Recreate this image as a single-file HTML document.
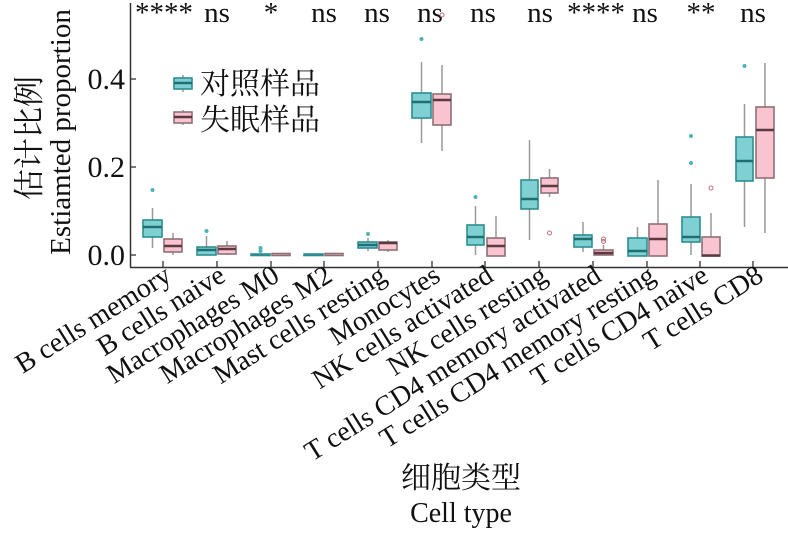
<!DOCTYPE html>
<html><head><meta charset="utf-8"><style>
body{margin:0;background:#fff;}
svg{display:block;}
text{font-family:"Liberation Serif","Noto Serif CJK SC",serif;fill:#111;}
.c{fill:#7fd0d3;stroke:#2d8d90;stroke-width:1.6;}
.p{fill:#f9c3cf;stroke:#8e6f76;stroke-width:1.6;}
.mc{stroke:#1f6f72;stroke-width:2.4;}
.mp{stroke:#5a3a40;stroke-width:2.4;}
.w{stroke:#999;stroke-width:1.5;}
</style></head><body>
<svg width="788" height="534" viewBox="0 0 788 534" xmlns="http://www.w3.org/2000/svg">
<line x1="130.5" y1="3" x2="130.5" y2="267" stroke="#333" stroke-width="1.5"/>
<line x1="130" y1="267.5" x2="788" y2="267.5" stroke="#333" stroke-width="1.5"/>
<g stroke="#333" stroke-width="1.3">
<line x1="130" y1="255" x2="136" y2="255"/><line x1="130" y1="167" x2="136" y2="167"/><line x1="130" y1="79" x2="136" y2="79"/>
<line x1="163" y1="261" x2="163" y2="267"/><line x1="217" y1="261" x2="217" y2="267"/><line x1="271" y1="261" x2="271" y2="267"/><line x1="324" y1="261" x2="324" y2="267"/><line x1="378" y1="261" x2="378" y2="267"/><line x1="432" y1="261" x2="432" y2="267"/><line x1="485" y1="261" x2="485" y2="267"/><line x1="539" y1="261" x2="539" y2="267"/><line x1="593" y1="261" x2="593" y2="267"/><line x1="647" y1="261" x2="647" y2="267"/><line x1="700" y1="261" x2="700" y2="267"/><line x1="753" y1="261" x2="753" y2="267"/>
</g>
<g font-size="30" text-anchor="end">
<text x="125" y="265">0.0</text><text x="125" y="177">0.2</text><text x="125" y="89">0.4</text>
</g>
<text transform="translate(40,138) rotate(-90)" font-size="31" text-anchor="middle">估计比例</text>
<text transform="translate(70,132) rotate(-90)" font-size="29" text-anchor="middle">Estiamted proportion</text>

<g font-size="29" text-anchor="middle">
<text x="164" y="22">****</text><text x="217" y="22">ns</text><text x="271" y="22">*</text><text x="324" y="22">ns</text><text x="377" y="22">ns</text><text x="430" y="22">ns</text><text x="483" y="22">ns</text><text x="540" y="22">ns</text><text x="596" y="22">****</text><text x="645" y="22">ns</text><text x="701" y="22">**</text><text x="753" y="22">ns</text>
</g>

<g>
<line class="w" x1="152.5" y1="208" x2="152.5" y2="248"/><rect class="c" x="143" y="220" width="19" height="17"/><line class="mc" x1="143" y1="227" x2="162" y2="227"/><circle cx="152.5" cy="190" r="2" fill="#4fb3b6"/>
<line class="w" x1="173" y1="233" x2="173" y2="255"/><rect class="p" x="164" y="239" width="18" height="13"/><line class="mp" x1="164" y1="246" x2="182" y2="246"/>
<line class="w" x1="206.5" y1="236" x2="206.5" y2="255"/><rect class="c" x="197" y="247" width="19" height="8"/><line class="mc" x1="197" y1="250" x2="216" y2="250"/><circle cx="206.5" cy="231" r="2" fill="#4fb3b6"/>
<line class="w" x1="227" y1="241" x2="227" y2="255"/><rect class="p" x="218" y="246" width="18" height="8"/><line class="mp" x1="218" y1="249" x2="236" y2="249"/>
<rect class="c" x="251" y="254" width="19" height="1.5"/><circle cx="260.5" cy="248" r="2" fill="#4fb3b6"/><circle cx="260.5" cy="251" r="2" fill="#4fb3b6"/>
<rect class="p" x="272" y="253.5" width="18" height="2"/>
<rect class="c" x="304" y="254" width="19" height="1.5"/><rect class="p" x="325" y="253.5" width="18" height="2"/>
<line class="w" x1="368" y1="238" x2="368" y2="251"/><rect class="c" x="358" y="242" width="19" height="6"/><line class="mc" x1="358" y1="245" x2="377" y2="245"/><circle cx="368" cy="234" r="2" fill="#4fb3b6"/>
<line class="w" x1="388" y1="240" x2="388" y2="252"/><rect class="p" x="379" y="242" width="18" height="8"/><line class="mp" x1="379" y1="243" x2="397" y2="243"/>
<line class="w" x1="421.5" y1="62" x2="421.5" y2="143"/><rect class="c" x="412" y="93" width="19" height="25"/><line class="mc" x1="412" y1="102" x2="431" y2="102"/><circle cx="421.5" cy="39" r="2" fill="#4fb3b6"/>
<line class="w" x1="442" y1="65" x2="442" y2="151"/><rect class="p" x="433" y="94" width="18" height="31"/><line class="mp" x1="433" y1="100" x2="451" y2="100"/><circle cx="442" cy="15" r="2" fill="none" stroke="#c07080"/>
<line class="w" x1="475.5" y1="206" x2="475.5" y2="255"/><rect class="c" x="467" y="225" width="17" height="20"/><line class="mc" x1="467" y1="237" x2="484" y2="237"/><circle cx="475.5" cy="197" r="2" fill="#4fb3b6"/>
<line class="w" x1="496" y1="216" x2="496" y2="256"/><rect class="p" x="487" y="238" width="18" height="18"/><line class="mp" x1="487" y1="246" x2="505" y2="246"/>
<line class="w" x1="529.5" y1="140" x2="529.5" y2="240"/><rect class="c" x="521" y="180" width="17" height="29"/><line class="mc" x1="521" y1="199" x2="538" y2="199"/>
<line class="w" x1="549.5" y1="169" x2="549.5" y2="197"/><rect class="p" x="541" y="178" width="17" height="15"/><line class="mp" x1="541" y1="186" x2="558" y2="186"/><circle cx="549.5" cy="233" r="2" fill="none" stroke="#c07080"/>
<line class="w" x1="583" y1="222" x2="583" y2="252"/><rect class="c" x="574" y="235" width="18" height="12"/><line class="mc" x1="574" y1="239" x2="592" y2="239"/>
<line class="w" x1="603.5" y1="245" x2="603.5" y2="255"/><rect class="p" x="594" y="250" width="19" height="5"/><line class="mp" x1="594" y1="253" x2="613" y2="253"/><circle cx="603.5" cy="239" r="2" fill="none" stroke="#c07080"/><circle cx="603.5" cy="241.5" r="2" fill="none" stroke="#c07080"/>
<line class="w" x1="637.5" y1="227" x2="637.5" y2="256"/><rect class="c" x="628" y="238" width="19" height="18"/><line class="mc" x1="628" y1="251" x2="647" y2="251"/>
<line class="w" x1="658" y1="180" x2="658" y2="256"/><rect class="p" x="649" y="224" width="18" height="32"/><line class="mp" x1="649" y1="239" x2="667" y2="239"/>
<line class="w" x1="691" y1="184" x2="691" y2="255"/><rect class="c" x="682" y="217" width="18" height="25"/><line class="mc" x1="682" y1="237" x2="700" y2="237"/><circle cx="691" cy="136" r="2" fill="#4fb3b6"/><circle cx="691" cy="163" r="2" fill="#4fb3b6"/>
<line class="w" x1="711" y1="213" x2="711" y2="256"/><rect class="p" x="702" y="237" width="18" height="19"/><line class="mp" x1="702" y1="255.5" x2="720" y2="255.5"/><circle cx="711" cy="188" r="2" fill="none" stroke="#c07080"/>
<line class="w" x1="744.5" y1="104" x2="744.5" y2="227"/><rect class="c" x="736" y="137" width="17" height="44"/><line class="mc" x1="736" y1="161" x2="753" y2="161"/><circle cx="744.5" cy="66" r="2" fill="#4fb3b6"/>
<line class="w" x1="765" y1="63" x2="765" y2="233"/><rect class="p" x="756" y="107" width="18" height="71"/><line class="mp" x1="756" y1="130" x2="774" y2="130"/>
</g>

<line class="w" x1="183" y1="75" x2="183" y2="92"/><rect class="c" x="174" y="78" width="18" height="11"/><line class="mc" x1="174" y1="83" x2="192" y2="83"/>
<line class="w" x1="183" y1="110" x2="183" y2="125"/><rect class="p" x="174" y="112" width="18" height="11"/><line class="mp" x1="174" y1="117" x2="192" y2="117"/>
<text x="200" y="94" font-size="30">对照样品</text>
<text x="200" y="130" font-size="30">失眠样品</text>

<g font-size="28" text-anchor="end">
<text transform="translate(173,280) rotate(-32)">B cells memory</text>
<text transform="translate(227,280) rotate(-32)">B cells naive</text>
<text transform="translate(281,280) rotate(-32)">Macrophages M0</text>
<text transform="translate(334,280) rotate(-32)">Macrophages M2</text>
<text transform="translate(388,280) rotate(-32)">Mast cells resting</text>
<text transform="translate(442,280) rotate(-32)">Monocytes</text>
<text transform="translate(495,280) rotate(-32)">NK cells activated</text>
<text transform="translate(549,280) rotate(-32)">NK cells resting</text>
<text transform="translate(603,280) rotate(-32)">T cells CD4 memory activated</text>
<text transform="translate(657,280) rotate(-32)">T cells CD4 memory resting</text>
<text transform="translate(710,280) rotate(-32)">T cells CD4 naive</text>
<text transform="translate(765,280) rotate(-32)">T cells CD8</text>
</g>
<text x="461" y="488" font-size="30" text-anchor="middle">细胞类型</text>
<text x="461" y="522" font-size="28" text-anchor="middle">Cell type</text>
</svg>
</body></html>
